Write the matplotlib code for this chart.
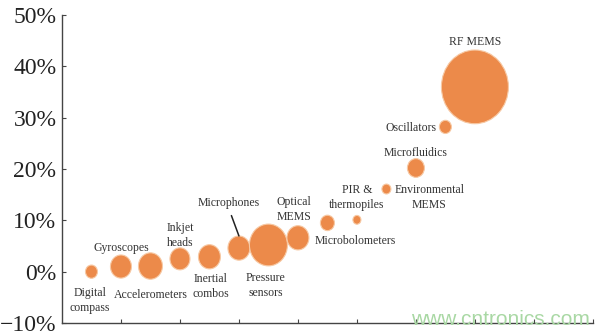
import numpy as np
import matplotlib
matplotlib.use("Agg")
import matplotlib.pyplot as plt
from matplotlib.path import Path
from matplotlib.transforms import Affine2D, offset_copy

# --- data: MEMS segments, growth (%) and bubble size ---
segments = ["Digital\ncompass", "Gyroscopes", "Accelerometers", "Inkjet\nheads",
            "Inertial\ncombos", "Microphones", "Pressure\nsensors", "Optical\nMEMS",
            "Microbolometers", "PIR &\nthermopiles", "Environmental\nMEMS",
            "Microfluidics", "Oscillators", "RF MEMS"]
growth = [0.0, 1.0, 1.1, 2.5, 2.9, 4.6, 5.2, 6.6, 9.5, 10.1, 16.1, 20.2, 28.2, 36.0]
size = [12, 21, 24, 20, 22, 22, 38, 22, 14, 8, 9, 17, 12, 67]   # bubble width
y_ticks = [-10, 0, 10, 20, 30, 40, 50]

# label offsets (points) relative to bubble centre
offsets = [(-1, -21), (0.5, 13), (0, -21), (0, 17), (1, -21.5), (-7.2, 23.8),
           (-2, -29), (-3, 20.5), (20, -13), (0, 16), (31, -6), (0, 11), (-25, -1),
           (0, 32)]

plt.rcParams["font.family"] = ["Liberation Serif", "DejaVu Serif"]

fig = plt.figure(figsize=(6.04, 3.35), dpi=100)
ax = fig.add_axes([0.1026, 0.0358, 0.879, 0.9194])

# slightly tall ellipse marker, as in the original
aspect = 1.1
ell = Path.unit_circle().transformed(Affine2D().scale(1 / aspect, 1))

x = np.arange(1, len(segments) + 1)
s = [(w * aspect * 0.72) ** 2 for w in size]
ax.scatter(x, growth, s=s, marker=ell, color="#EC8A4A",
           edgecolors="#F7C9A4", linewidths=0.8, zorder=3)

for i, (lab, (dx, dy)) in enumerate(zip(segments, offsets)):
    if lab == "Microphones":
        # leader line ends at the top of the bubble
        top = offset_copy(ax.transData, fig=fig, x=0, y=size[i] * aspect / 2 * 0.72,
                          units="points")
        ax.annotate(lab, (x[i], growth[i]), xycoords=top, xytext=(dx, dy),
                    textcoords="offset points", ha="center", va="center",
                    fontsize=8.5, color="#333333",
                    arrowprops=dict(arrowstyle="-", color="#222222", lw=1.1,
                                    relpos=(0.5, 0), shrinkA=3, shrinkB=0))
    else:
        ax.annotate(lab, (x[i], growth[i]), xytext=(dx, dy), textcoords="offset points",
                    ha="center", va="center", fontsize=8.5, color="#333333",
                    linespacing=1.3)

ax.set_xlim(0, 18)
ax.set_ylim(-10, 50)
ax.set_xticks(np.arange(2, 19, 2))
ax.set_xticklabels([])
ax.set_yticks(y_ticks)
ax.set_yticklabels([f"{v}%".replace("-", "\u2212") for v in y_ticks])
ax.tick_params(axis="y", direction="in", length=3, labelsize=17, pad=4,
               colors="#444444", labelcolor="#222222")
ax.tick_params(axis="x", direction="in", length=3, colors="#444444")
for side in ["top", "right"]:
    ax.spines[side].set_visible(False)
for side in ["left", "bottom"]:
    ax.spines[side].set_color("#444444")
    ax.spines[side].set_linewidth(1)

# watermark
fig.text(0.828, 0.045, "www.cntronics.com", ha="center", va="center",
         fontsize=15, color="#A9D8A4", family="Liberation Sans")

fig.savefig("out.png", dpi=100)
plt.close(fig)
